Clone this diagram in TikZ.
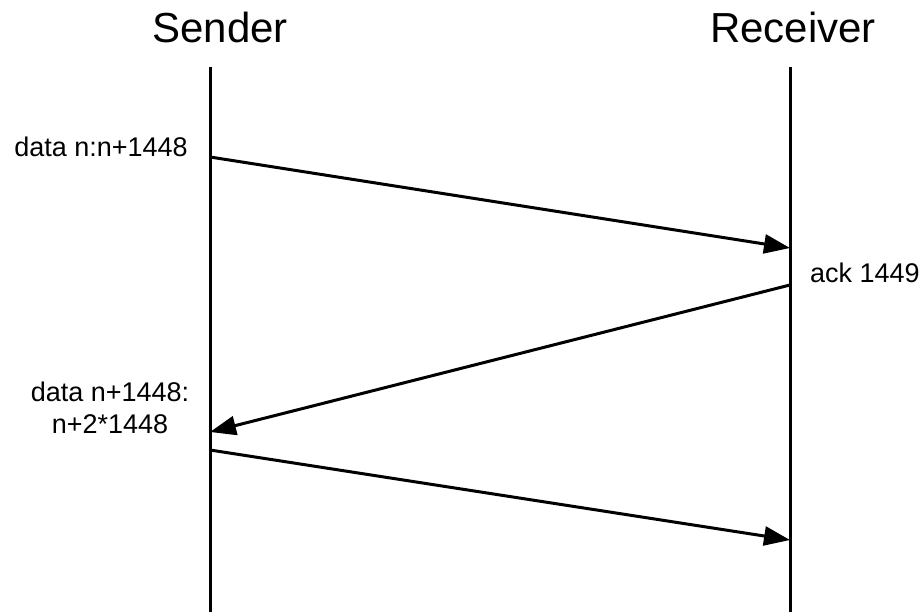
\documentclass[tikz,border=0pt]{standalone}
\usepackage{fontspec}
\setmainfont{Liberation Sans}
\usetikzlibrary{arrows.meta}
\begin{document}
\begin{tikzpicture}[x=1pt,y=-1pt,
  title/.style={font=\fontsize{42}{48}\selectfont, inner sep=0pt, anchor=base},
  msglabel/.style={font=\fontsize{27}{32}\selectfont, inner sep=0pt},
  lifeline/.style={line width=3pt},
  msg/.style={line width=3pt, -{Triangle[length=26pt,width=19pt]}}]
  \useasboundingbox (0,0) rectangle (921,612);
  % participants
  \node[title] (sender) at (220,43) {Sender};
  \node[title] (receiver) at (793,43) {Receiver};
  % lifelines
  \coordinate (stop) at (210,67);
  \coordinate (sbot) at (210,612);
  \coordinate (rtop) at (790,67);
  \coordinate (rbot) at (790,612);
  \draw[lifeline] (stop) -- (sbot);
  \draw[lifeline] (rtop) -- (rbot);
  % message end points
  \coordinate (s1) at (210,157);
  \coordinate (r1) at (790,248);
  \coordinate (r2) at (790,285);
  \coordinate (s2) at (210,432);
  \coordinate (s3) at (210,450);
  \coordinate (r3) at (790,540);
  \draw[msg] (s1) -- (r1);
  \draw[msg] (r2) -- (s2);
  \draw[msg] (s3) -- (r3);
  % message labels
  \node[msglabel, anchor=base east] (l1) at (188,157) {data n:n+1448};
  \node[msglabel, anchor=base west] (l2) at (810,283) {ack 1449};
  \node[msglabel, align=center, anchor=base] (l3) at (110,433) {data n+1448:\\n+2*1448};
\end{tikzpicture}
\end{document}
